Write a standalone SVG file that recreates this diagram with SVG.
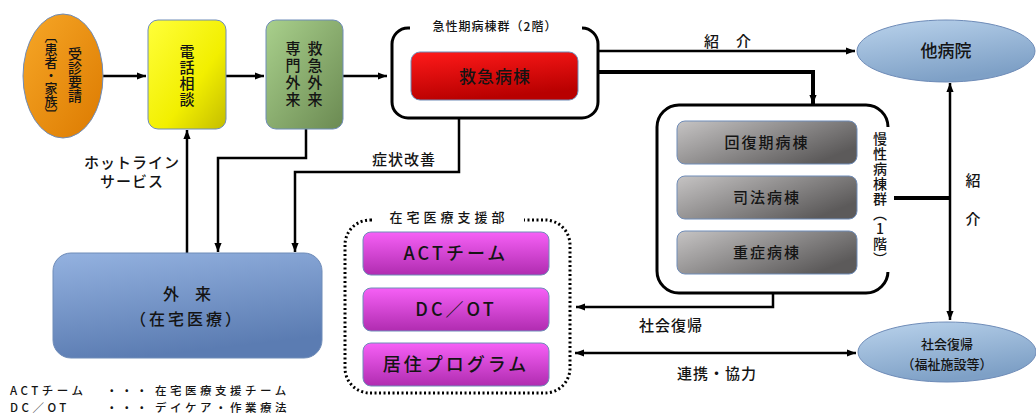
<svg xmlns="http://www.w3.org/2000/svg" width="1036" height="414" viewBox="0 0 1036 414">
<defs>
<linearGradient id="gOrange" x1="0" y1="0" x2="1" y2="1"><stop offset="0" stop-color="#f7a727"/><stop offset="1" stop-color="#dc7a00"/></linearGradient>
<linearGradient id="gYellow" x1="0" y1="0" x2="1" y2="1"><stop offset="0" stop-color="#ffff3a"/><stop offset="0.6" stop-color="#f2ef00"/><stop offset="1" stop-color="#c4bd00"/></linearGradient>
<linearGradient id="gGreen" x1="0" y1="0" x2="1" y2="1"><stop offset="0" stop-color="#a9d08c"/><stop offset="1" stop-color="#6b8a52"/></linearGradient>
<linearGradient id="gRed" x1="0" y1="0" x2="0.3" y2="1"><stop offset="0" stop-color="#ff1a1a"/><stop offset="1" stop-color="#b80000"/></linearGradient>
<linearGradient id="gGray" x1="0" y1="0" x2="1" y2="0.6"><stop offset="0" stop-color="#c6c4c4"/><stop offset="1" stop-color="#5c5a5a"/></linearGradient>
<linearGradient id="gMag" x1="0" y1="0" x2="0" y2="1"><stop offset="0" stop-color="#f660f6"/><stop offset="1" stop-color="#b02cb0"/></linearGradient>
<linearGradient id="gBlue" x1="0" y1="0" x2="0.3" y2="1"><stop offset="0" stop-color="#94b2e0"/><stop offset="1" stop-color="#5b7cb2"/></linearGradient>
<linearGradient id="gSky" x1="0" y1="0" x2="0.4" y2="1"><stop offset="0" stop-color="#bad3ec"/><stop offset="1" stop-color="#7ea0c6"/></linearGradient>
<marker id="ah" viewBox="0 0 10 10" refX="10" refY="5" markerWidth="9" markerHeight="9" markerUnits="userSpaceOnUse" orient="auto-start-reverse"><path d="M0,1 L10,5 L0,9 z" fill="#000"/></marker>
</defs>
<style>
text{font-family:'Noto Sans CJK JP','Noto Sans CJK SC',sans-serif;fill:#141414;font-weight:500;}
.vt{writing-mode:vertical-rl;}
.c{text-anchor:middle;}
.ln{fill:none;stroke:#000;stroke-width:2.5;}
.th{stroke-width:4;}
.box{stroke:#6f8cb8;stroke-width:1;}
.frame{fill:#fff;stroke:#000;stroke-width:3;}
.lg{font-size:11.5px;letter-spacing:3.5px;}
</style>
<rect width="1036" height="414" fill="#fff"/>

<g id="connectors">
<line class="ln" x1="103" y1="76" x2="146" y2="76" marker-end="url(#ah)"/>
<line class="ln" x1="226" y1="76" x2="264" y2="76" marker-end="url(#ah)"/>
<line class="ln" x1="343" y1="76" x2="387" y2="76" marker-end="url(#ah)"/>
<line class="ln" x1="598" y1="51" x2="855" y2="51" marker-end="url(#ah)"/>
<polyline class="ln th" points="598,72 813,72 813,104" marker-end="url(#ah)"/>
<line class="ln th" x1="888" y1="198" x2="950" y2="198"/>
<line class="ln" x1="950" y1="320" x2="950" y2="83" marker-start="url(#ah)" marker-end="url(#ah)"/>
<polyline class="ln" points="773,293 773,307 576,307" marker-end="url(#ah)"/>
<line class="ln" x1="575" y1="353" x2="856" y2="353" marker-start="url(#ah)" marker-end="url(#ah)"/>
<line class="ln" x1="187" y1="253" x2="187" y2="130" marker-end="url(#ah)"/>
<polyline class="ln" points="306,129 306,158 218,158 218,252" marker-end="url(#ah)"/>
<polyline class="ln" points="459,118 459,172 295,172 295,252" marker-end="url(#ah)"/>
<text class="c" x="728" y="47" font-size="15" letter-spacing="1">紹　介</text>
<text class="c" x="973" y="186" font-size="15">紹</text>
<text class="c" x="973" y="225" font-size="15">介</text>
<text class="c" x="404" y="165" font-size="15" letter-spacing="1">症状改善</text>
<text class="c" x="671" y="331" font-size="15" letter-spacing="1">社会復帰</text>
<text class="c" x="717" y="379" font-size="15" letter-spacing="1">連携・協力</text>
<text class="c" x="132" y="168" font-size="15" letter-spacing="1">ホットライン</text>
<text class="c" x="132" y="187" font-size="15" letter-spacing="1">サービス</text>
</g>

<g id="n-patient">
<ellipse cx="63" cy="76" rx="40" ry="62" fill="url(#gOrange)" class="box"/>
<text class="vt c" x="75" y="75" font-size="14">受診要請</text>
<text class="vt c" x="51" y="75" font-size="13">〔患者・家族〕</text>
</g>

<g id="n-tel">
<rect x="148" y="20" width="78" height="109" rx="10" fill="url(#gYellow)" class="box"/>
<text class="vt c" x="187" y="76" font-size="15" letter-spacing="1">電話相談</text>
</g>

<g id="n-er-out">
<rect x="266" y="20" width="77" height="109" rx="10" fill="url(#gGreen)" class="box"/>
<text class="vt c" x="315" y="75" font-size="15" letter-spacing="2">救急外来</text>
<text class="vt c" x="293" y="75" font-size="15" letter-spacing="2">専門外来</text>
</g>

<g id="n-acute">
<rect x="392" y="28" width="206" height="90" rx="16" class="frame"/>
<rect x="410" y="18" width="172" height="18" fill="#fff"/>
<text class="c" x="495" y="31" font-size="12" letter-spacing="1">急性期病棟群（2階）</text>
<rect x="411" y="52" width="167" height="48" rx="9" fill="url(#gRed)" class="box"/>
<text class="c" x="495" y="83" font-size="17" letter-spacing="1">救急病棟</text>
</g>

<g id="n-other">
<ellipse cx="946" cy="51" rx="89" ry="31" fill="url(#gSky)" class="box"/>
<text class="c" x="946" y="57" font-size="17">他病院</text>
</g>

<g id="n-chronic">
<rect x="657" y="105" width="231" height="188" rx="22" class="frame"/>
<rect x="868" y="127" width="26" height="145" fill="#fff"/>
<text class="vt c" x="880" y="199" font-size="14" letter-spacing="1" style="text-orientation:upright">慢性病棟群（1階）</text>
<rect x="677" y="121" width="180" height="43" rx="8" fill="url(#gGray)" class="box"/>
<text class="c" x="767" y="148" font-size="15" letter-spacing="2">回復期病棟</text>
<rect x="677" y="176" width="180" height="43" rx="8" fill="url(#gGray)" class="box"/>
<text class="c" x="767" y="203" font-size="15" letter-spacing="2">司法病棟</text>
<rect x="677" y="231" width="180" height="43" rx="8" fill="url(#gGray)" class="box"/>
<text class="c" x="767" y="258" font-size="15" letter-spacing="2">重症病棟</text>
</g>

<g id="n-return">
<ellipse cx="947" cy="352" rx="89" ry="30" fill="url(#gSky)" class="box"/>
<text class="c" x="947" y="349" font-size="13">社会復帰</text>
<text class="c" x="947" y="369" font-size="13">（福祉施設等）</text>
</g>

<g id="n-home">
<rect x="345" y="220" width="225" height="173" rx="25" fill="none" stroke="#000" stroke-width="3" stroke-dasharray="2 2.5"/>
<rect x="374" y="207" width="150" height="20" fill="#fff"/>
<text class="c" x="449" y="222" font-size="13" letter-spacing="4">在宅医療支援部</text>
<rect x="363" y="232" width="186" height="43" rx="8" fill="url(#gMag)" class="box"/>
<text class="c" x="456" y="260" font-size="18" letter-spacing="3">ACTチーム</text>
<rect x="363" y="288" width="186" height="43" rx="8" fill="url(#gMag)" class="box"/>
<text class="c" x="456" y="316" font-size="18" letter-spacing="3">DC／OT</text>
<rect x="363" y="343" width="186" height="43" rx="8" fill="url(#gMag)" class="box"/>
<text class="c" x="456" y="371" font-size="18" letter-spacing="3">居住プログラム</text>
</g>

<g id="n-outpatient">
<rect x="53" y="253" width="269" height="105" rx="18" fill="url(#gBlue)" class="box"/>
<text class="c" x="187" y="300" font-size="16">外　来</text>
<text class="c" x="187" y="325" font-size="16" letter-spacing="3">（在宅医療）</text>
</g>

<g id="legend">
<text class="lg" x="10" y="395">ACTチーム</text>
<text class="lg" x="106" y="395">・・・</text>
<text class="lg" x="155" y="395">在宅医療支援チーム</text>
<text class="lg" x="10" y="412">DC／OT</text>
<text class="lg" x="106" y="412">・・・</text>
<text class="lg" x="155" y="412">デイケア・作業療法</text>
</g>
</svg>
